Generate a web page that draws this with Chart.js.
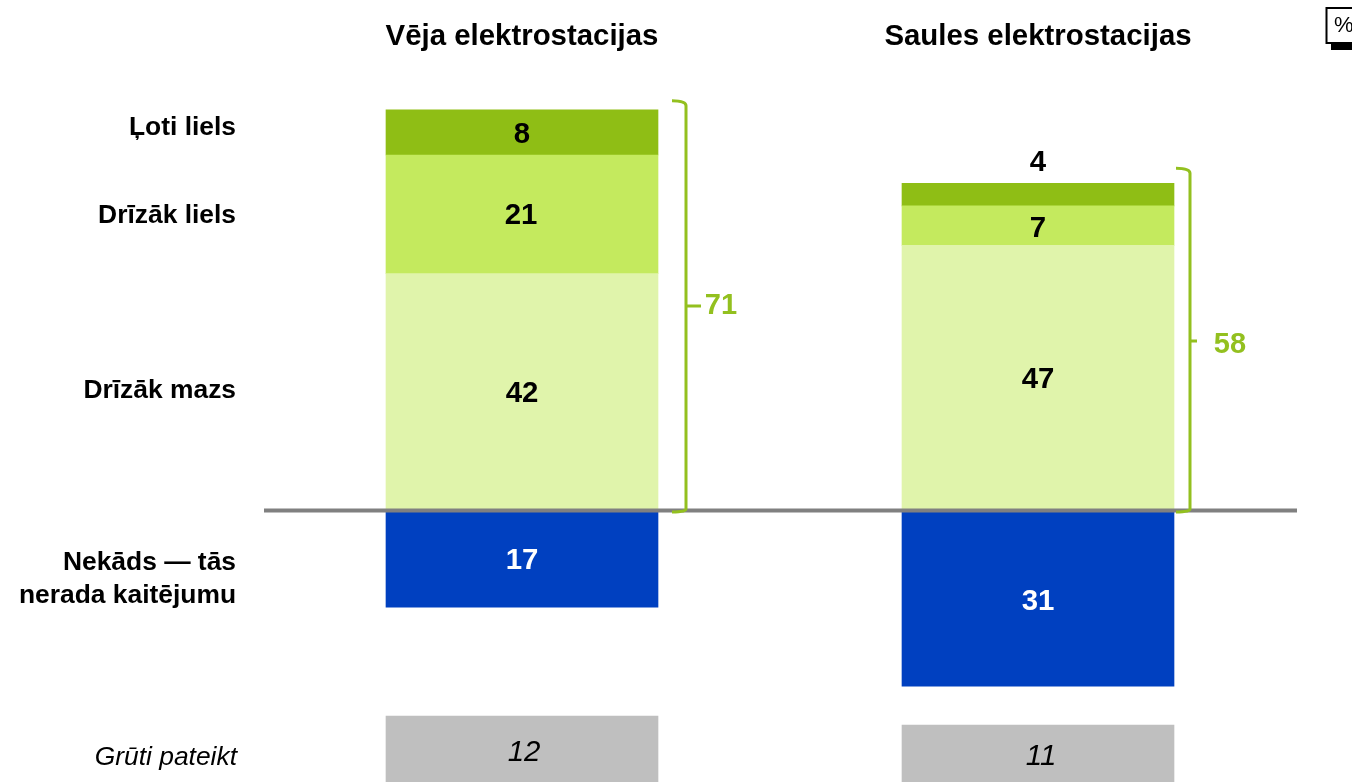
<!DOCTYPE html>
<html>
<head>
<meta charset="utf-8">
<style>html,body{margin:0;padding:0;background:#fff;overflow:hidden}canvas{display:block}</style>
<script src="https://cdn.jsdelivr.net/npm/chart.js@4"></script>
</head>
<body>
<canvas id="c" width="1352" height="782"></canvas>
<script>
const categories = ["Vēja elektrostacijas", "Saules elektrostacijas"];
const veryLarge = [8, 4];
const ratherLarge = [21, 7];
const ratherSmall = [42, 47];
const none = [-17, -31];
const hardToSay = [12, 11];
const hardToSayStart = [-36.3, -37.9];
const totals = [71, 58];
const rowLabels = ["Ļoti liels", "Drīzāk liels", "Drīzāk mazs", "Nekāds — tās", "nerada kaitējumu"];
const rowLabelY = [126, 214, 389, 561, 594];
const unknownLabel = "Grūti pateikt";

const GREEN = "#8FBE15", BRACKET = "#93C01F";
const FONT = '"Liberation Sans", Arial, sans-serif';

const textPlugin = {
  id: "texts",
  afterDatasetsDraw(chart) {
    const {ctx, scales:{x, y}} = chart;
    ctx.save();
    // baseline
    ctx.fillStyle = "#808080";
    ctx.fillRect(264, 508.5, 1033, 4);

    // value labels
    ctx.textBaseline = "middle"; ctx.textAlign = "center";
    const labelOffsets = [
      [[0,2],[0,2]], [[-1,2],[0,3]], [[0,2],[0,2]], [[0,2],[0,3]], [[2,3],[3,1]]
    ];
    chart.data.datasets.forEach((ds, di) => {
      const meta = chart.getDatasetMeta(di);
      meta.data.forEach((el, i) => {
        let val = ds.data[i];
        if (Array.isArray(val)) val = Math.abs(val[1] - val[0]);
        let off = labelOffsets[di][i];
        let py = (el.y + el.base) / 2 + off[1];
        if (di === 2 && i === 1) py = 163;
        ctx.fillStyle = ds.labelColor;
        ctx.font = ds.italicLabel ? "italic 29.4px " + FONT : "bold 29.4px " + FONT;
        ctx.fillText(String(Math.abs(val)), el.x + off[0], py);
      });
    });

    // column titles
    ctx.fillStyle = "#000"; ctx.font = "bold 29.4px " + FONT;
    categories.forEach((c, i) => ctx.fillText(c, x.getPixelForValue(i), 37));

    // row labels
    ctx.textAlign = "right"; ctx.font = "bold 26.4px " + FONT;
    rowLabels.forEach((t, i) => ctx.fillText(t, 236, rowLabelY[i] + 1.5));
    ctx.font = "italic 26.4px " + FONT;
    ctx.fillText(unknownLabel, 237, 757.5);

    // brackets
    const brackets = [
      {x: 686, top: y.getPixelForValue(totals[0]) - 9, mid: 306, tickEnd: 701, lx: 721, ly: 306},
      {x: 1190, top: y.getPixelForValue(totals[1]) - 15, mid: 341, tickEnd: 1197, lx: 1230, ly: 345}
    ];
    const bottom = y.getPixelForValue(0) + 1;
    ctx.strokeStyle = BRACKET; ctx.lineWidth = 3; ctx.lineCap = "butt";
    brackets.forEach((b, i) => {
      ctx.beginPath();
      ctx.moveTo(b.x - 14, b.top);
      ctx.quadraticCurveTo(b.x, b.top, b.x, b.top + 5);
      ctx.lineTo(b.x, bottom - 3);
      ctx.quadraticCurveTo(b.x, bottom, b.x - 14, bottom);
      ctx.moveTo(b.x, b.mid);
      ctx.lineTo(b.tickEnd, b.mid);
      ctx.stroke();
      ctx.fillStyle = BRACKET; ctx.textAlign = "center"; ctx.font = "bold 29px " + FONT;
      ctx.fillText(String(totals[i]), b.lx, b.ly);
    });

    // percent box
    ctx.fillStyle = "#000"; ctx.fillRect(1331, 43, 21, 7);
    ctx.strokeStyle = "#000"; ctx.lineWidth = 2;
    ctx.strokeRect(1326.5, 8, 40, 35);
    ctx.textAlign = "left"; ctx.font = "22px " + FONT;
    ctx.fillText("%", 1334, 26);
    ctx.restore();
  }
};

const barOpts = {barThickness: 272, borderWidth: 0, grouped: false, stack: "s"};
new Chart(document.getElementById("c"), {
  type: "bar",
  data: {
    labels: categories,
    datasets: [
      {label: "Drīzāk mazs", data: ratherSmall, backgroundColor: "#E0F4AB", labelColor: "#000", ...barOpts},
      {label: "Drīzāk liels", data: ratherLarge, backgroundColor: "#C4EA5E", labelColor: "#000", ...barOpts},
      {label: "Ļoti liels", data: veryLarge, backgroundColor: GREEN, labelColor: "#000", ...barOpts},
      {label: "Nekāds — tās nerada kaitējumu", data: none, backgroundColor: "#0040C0", labelColor: "#fff", ...barOpts},
      {label: "Grūti pateikt", data: hardToSay.map((v, i) => [hardToSayStart[i], hardToSayStart[i] - v]),
       backgroundColor: "#BFBFBF", labelColor: "#000", italicLabel: true,
       barThickness: 272, borderWidth: 0, grouped: false, stack: "g"}
    ]
  },
  options: {
    responsive: false,
    animation: false,
    grouped: false,
    layout: {padding: {left: 264, right: 56, top: 0, bottom: 0}},
    plugins: {legend: {display: false}, tooltip: {enabled: false}, title: {display: false}},
    scales: {
      x: {display: false, stacked: true},
      y: {display: false, stacked: true, min: -47.96, max: 90.44}
    }
  },
  plugins: [textPlugin]
});
</script>
</body>
</html>
